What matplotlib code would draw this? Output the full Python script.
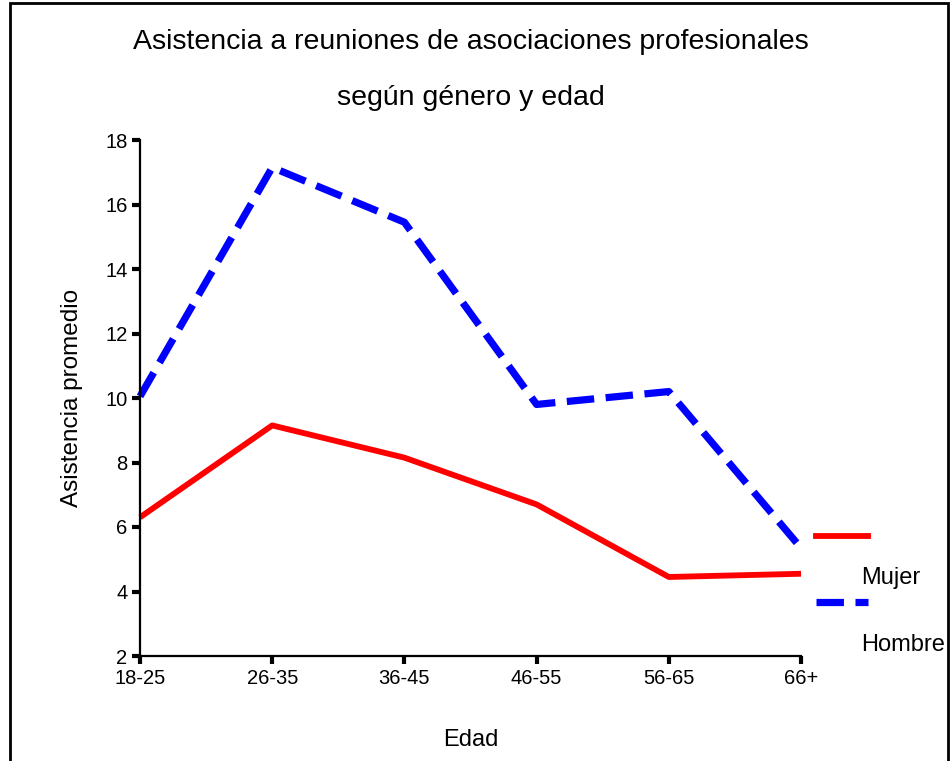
import matplotlib
matplotlib.use("Agg")
import matplotlib.pyplot as plt
from matplotlib.lines import Line2D
from matplotlib.patches import Rectangle

edades = ["18-25", "26-35", "36-45", "46-55", "56-65", "66+"]
mujer = [6.3, 9.15, 8.15, 6.7, 4.45, 4.55]
hombre = [10.05, 17.15, 15.45, 9.8, 10.2, 5.35]
yticks = [2, 4, 6, 8, 10, 12, 14, 16, 18]

plt.rcParams['font.family'] = ['Liberation Sans', 'DejaVu Sans']

fig = plt.figure(figsize=(9.51, 7.61), dpi=100)
ax = fig.add_axes([140/951, 105/761, 661/951, 516/761])

x = list(range(len(edades)))
ax.plot(x, mujer, color='#ff0000', lw=4.2, solid_capstyle='butt', clip_on=False)
ax.plot(x, hombre, color='#0000ff', lw=5.2, dashes=(3.8, 1.6), clip_on=False)

ax.set_xlim(0, len(edades) - 1)
ax.set_ylim(2, 18)
ax.set_xticks(x)
ax.set_xticklabels(edades, fontsize=14.5)
ax.set_yticks(yticks)
ax.set_yticklabels([str(v) for v in yticks], fontsize=14.5)
ax.tick_params(length=6, width=3, pad=3)
for s in ['top', 'right']:
    ax.spines[s].set_visible(False)
for s in ['left', 'bottom']:
    ax.spines[s].set_linewidth(1.6)

ax.set_ylabel("Asistencia promedio", fontsize=17.5, labelpad=16)
ax.set_xlabel("Edad", fontsize=17, labelpad=30)

fig.text(471/951, 1 - 42/761, "Asistencia a reuniones de asociaciones profesionales",
         ha='center', va='center', fontsize=20.5)
fig.text(471/951, 1 - 98/761, "según género y edad",
         ha='center', va='center', fontsize=20.5)

# leyenda a la derecha
fig.add_artist(Line2D([816/951, 868/951], [1 - 536/761, 1 - 536/761],
                      color='#ff0000', lw=4.2, transform=fig.transFigure))
fig.text(861/951, 1 - 578/761, "Mujer", ha='left', va='center', fontsize=17)
fig.add_artist(Line2D([816/951, 868/951], [1 - 602/761, 1 - 602/761],
                      color='#0000ff', lw=5.2, dashes=(3.8, 1.6), transform=fig.transFigure))
fig.text(861/951, 1 - 645/761, "Hombre", ha='left', va='center', fontsize=17)

# marco
fig.add_artist(Rectangle((10/951, -0.05), 938/951, 1.05 - 3/761, fill=False,
                         lw=2, edgecolor='black', transform=fig.transFigure))

fig.savefig("out.png", dpi=100)
